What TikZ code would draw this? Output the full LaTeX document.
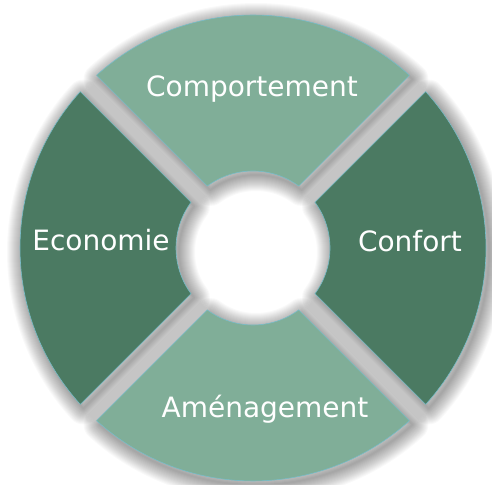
\documentclass[tikz,border=0pt]{standalone}
\usepackage{fontspec}
\setmainfont{DejaVu Sans}
\definecolor{segLight}{RGB}{128,174,152}
\definecolor{segDark}{RGB}{75,122,98}
\definecolor{segEdge}{RGB}{120,188,200}
\begin{document}
\begin{tikzpicture}[x=1pt,y=1pt,
  lbl/.style={text=white, font=\fontsize{28}{32}\selectfont, anchor=base, inner sep=0pt},
  segshadow/.style={black, opacity=0.023, line join=round},
  segment/.style={draw=segEdge, line width=0.6pt, line join=round}]
\useasboundingbox (0,0) rectangle (492,484);
\fill[white] (0,0) rectangle (492,484);
\begin{scope}[shift={(253,236)}]
  % soft drop shadow
  \begin{scope}[shift={(3,-4)}]
    \foreach \k in {1,...,16}{
      \foreach \a in {0,90,180,270}{
        \draw[segshadow, line width={2*\k}]
          ({47.83+\a}:233) arc[start angle={47.83+\a}, end angle={132.17+\a}, radius=233]
          -- ({126.41+\a}:77) arc[start angle={126.41+\a}, end angle={53.59+\a}, radius=77] -- cycle;
      }
    }
  \end{scope}
  % segments
  \foreach \a/\c in {0/segLight,90/segDark,180/segLight,270/segDark}{
    \filldraw[segment, fill=\c]
      ({47.83+\a}:233) arc[start angle={47.83+\a}, end angle={132.17+\a}, radius=233]
      -- ({126.41+\a}:77) arc[start angle={126.41+\a}, end angle={53.59+\a}, radius=77] -- cycle;
  }
\end{scope}
\node[lbl] (comp) at (252,387) {Comportement};
\node[lbl] (econ) at (101,233) {Economie};
\node[lbl] (conf) at (410,232) {Confort};
\node[lbl] (amen) at (265,66) {Aménagement};
\end{tikzpicture}
\end{document}
